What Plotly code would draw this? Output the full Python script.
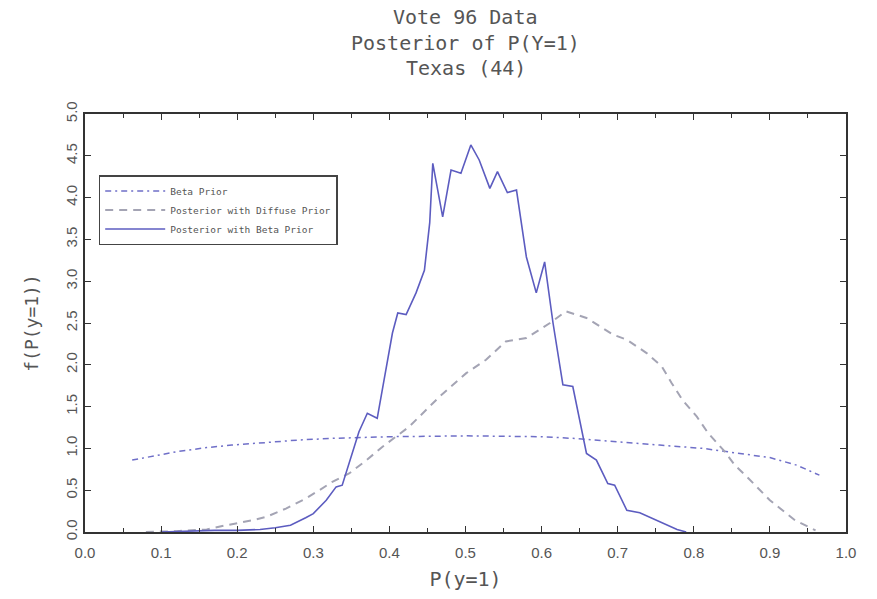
import plotly.graph_objects as go

# Beta prior density
beta_x = [0.062, 0.09, 0.12, 0.16, 0.193, 0.238, 0.28, 0.325, 0.40, 0.50,
          0.60, 0.641, 0.703, 0.755, 0.812, 0.857, 0.90, 0.935, 0.965]
beta_y = [0.86, 0.91, 0.96, 1.01, 1.04, 1.07, 1.10, 1.12, 1.14, 1.15,
          1.14, 1.12, 1.08, 1.04, 1.00, 0.94, 0.89, 0.80, 0.68]

# Posterior with diffuse prior
diff_x = [0.08, 0.12, 0.16, 0.185, 0.22, 0.238, 0.264, 0.29, 0.308, 0.325,
          0.347, 0.37, 0.391, 0.426, 0.466, 0.501, 0.527, 0.553, 0.58, 0.611,
          0.632, 0.659, 0.694, 0.712, 0.738, 0.758, 0.771, 0.785, 0.804, 0.819,
          0.839, 0.854, 0.872, 0.90, 0.933, 0.96]
diff_y = [0.00, 0.01, 0.03, 0.08, 0.14, 0.18, 0.28, 0.40, 0.50, 0.60,
          0.70, 0.86, 1.02, 1.26, 1.62, 1.90, 2.06, 2.28, 2.32, 2.50,
          2.64, 2.56, 2.36, 2.30, 2.14, 1.98, 1.78, 1.58, 1.38, 1.18,
          0.98, 0.80, 0.64, 0.38, 0.14, 0.02]

# Posterior with beta prior
post_x = [0.10, 0.13, 0.17, 0.20, 0.23, 0.25, 0.27, 0.29, 0.30, 0.317,
          0.33, 0.338, 0.351, 0.36, 0.371, 0.384, 0.393, 0.404, 0.411, 0.422,
          0.435, 0.446, 0.453, 0.457, 0.470, 0.481, 0.494, 0.507, 0.518, 0.532,
          0.542, 0.555, 0.567, 0.580, 0.593, 0.604, 0.615, 0.628, 0.641, 0.659,
          0.672, 0.687, 0.696, 0.712, 0.729, 0.755, 0.778, 0.79]
post_y = [0.00, 0.01, 0.02, 0.02, 0.03, 0.05, 0.08, 0.17, 0.22, 0.38,
          0.54, 0.56, 0.94, 1.20, 1.42, 1.36, 1.82, 2.38, 2.62, 2.60,
          2.86, 3.13, 3.70, 4.41, 3.77, 4.33, 4.29, 4.63, 4.45, 4.11,
          4.31, 4.06, 4.09, 3.29, 2.86, 3.23, 2.50, 1.76, 1.74, 0.94,
          0.86, 0.58, 0.56, 0.26, 0.23, 0.12, 0.03, 0.00]

x_ticks = [0.0, 0.1, 0.2, 0.3, 0.4, 0.5, 0.6, 0.7, 0.8, 0.9, 1.0]
y_ticks = [0.0, 0.5, 1.0, 1.5, 2.0, 2.5, 3.0, 3.5, 4.0, 4.5, 5.0]

title_lines = ["Vote 96 Data", "Posterior of P(Y=1)", "Texas (44)"]

TEXT = "#555555"
MONO = "DejaVu Sans Mono"

fig = go.Figure()
fig.add_trace(go.Scatter(
    x=beta_x, y=beta_y, mode="lines", name="Beta Prior",
    line=dict(color="#6f6fc8", width=1.5, dash="6px,4px,2px,4px")))
fig.add_trace(go.Scatter(
    x=diff_x, y=diff_y, mode="lines", name="Posterior with Diffuse Prior",
    line=dict(color="#a4a4b4", width=2, dash="8px,6px")))
fig.add_trace(go.Scatter(
    x=post_x, y=post_y, mode="lines", name="Posterior with Beta Prior",
    line=dict(color="#5c5cc0", width=1.6)))

# three stacked title lines above the plot frame
for i, line in enumerate(title_lines):
    fig.add_annotation(
        text=line, x=0.5, xref="paper", xanchor="center",
        y=17 + 25.5 * i, yref="paper", yanchor="middle", showarrow=False,
        font=dict(family=MONO, size=20, color=TEXT))

axis_common = dict(
    showline=True, linecolor="#333333", linewidth=2, mirror="allticks",
    ticks="inside", ticklen=6, tickcolor="#333333", tickwidth=1,
    showgrid=False, zeroline=False,
    tickfont=dict(family="Liberation Sans", size=15, color=TEXT),
)

# convert pixel offsets from the top edge into paper y for the annotations
plot_top, plot_h = 114, 418
for ann in fig.layout.annotations:
    ann.y = (plot_top + plot_h - ann.y) / plot_h

fig.update_layout(
    width=877, height=599,
    margin=dict(l=85, r=31, t=114, b=67),
    paper_bgcolor="white", plot_bgcolor="white",
    xaxis=dict(
        range=[0, 1], tickvals=x_ticks,
        ticktext=[f"{v:.1f}" for v in x_ticks],
        minor=dict(dtick=0.05, ticks="inside", ticklen=4, tickcolor="#333333"),
        ticklabelstandoff=6,
        title=dict(text="P(y=1)", standoff=12,
                   font=dict(family=MONO, size=20, color=TEXT)),
        **axis_common),
    yaxis=dict(
        range=[0, 5], tickvals=y_ticks,
        ticktext=[f"{v:.1f}" for v in y_ticks],
        tickangle=-90,
        title=dict(text="f(P(y=1))", standoff=20,
                   font=dict(family=MONO, size=18, color=TEXT)),
        **axis_common),
    legend=dict(
        x=0.018, y=0.854, xanchor="left", yanchor="top",
        bgcolor="white", bordercolor="#444444", borderwidth=1.5,
        itemwidth=60, tracegroupgap=0,
        font=dict(family=MONO, size=9.5, color=TEXT)),
    showlegend=True,
)

fig.write_html("out.html")
